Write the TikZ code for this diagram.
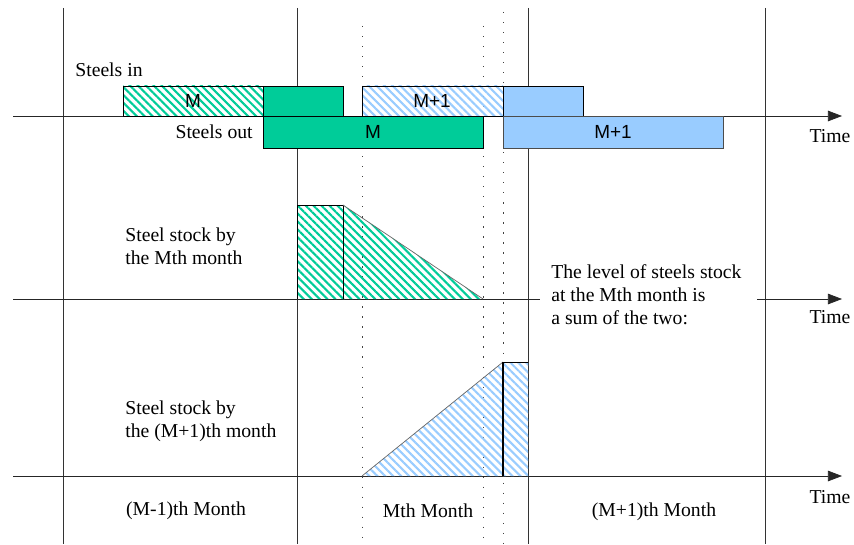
\documentclass[tikz,border=0pt]{standalone}
\usepackage{fontspec}
\setmainfont{Liberation Serif}
\newfontfamily\barfont{Liberation Sans}
\usetikzlibrary{arrows.meta,patterns.meta}
\definecolor{steelgreen}{HTML}{00CC99}
\definecolor{steelblue}{HTML}{99CCFF}

\tikzset{
  timeaxis/.style={draw=black!85, -{Triangle[length=8pt,width=6pt]}},
  monthline/.style={draw=black!80},
  tickline/.style={draw=black!75, dash pattern=on 0.7pt off 5pt},
  hatchgreen/.style={pattern={Lines[angle=-45,distance=3.2pt,line width=1.2pt]}, pattern color=steelgreen},
  hatchblue/.style={pattern={Lines[angle=-45,distance=3.2pt,line width=1.2pt]}, pattern color=steelblue},
  txt/.style={font=\fontsize{11.2}{13}\selectfont, align=left, inner sep=0pt},
  barlabel/.style={font=\barfont\fontsize{10.8}{12}\selectfont, inner sep=0pt}
}

\begin{document}
\begin{tikzpicture}[x=0.02cm, y=-0.02cm]
    \useasboundingbox (0,0) rectangle (854,544);

    % Grenzen der Monate
    \foreach \xm in {63,297,528,765}
        \draw[monthline] (\xm,8) -- (\xm,544);
    % Hilfslinien (gepunktet)
    \foreach \xt/\yt in {362/26,483/26,503/12}
        \draw[tickline] (\xt,\yt) -- (\xt,544);

    % Zeitachsen
    \draw[timeaxis] (13,116) -- (842,116);
    \node[txt] at (830,136) {Time};
    \draw[draw=black!85] (13,299) -- (540,299);
    \draw[timeaxis] (757,299) -- (842,299);
    \node[txt] at (830,317) {Time};
    \draw[timeaxis] (13,476) -- (842,476);
    \node[txt] at (830,497) {Time};

    % Eingang
    \node[txt, anchor=west] at (75,70) {Steels in};
    \draw[hatchgreen] (123,86) rectangle (263,116);
    \draw[black, thin] (123,86) rectangle (263,116);
    \node[barlabel] at (193,101) {M};
    \draw[fill=steelgreen] (263,86) rectangle (343,116);
    \draw[hatchblue] (362,86) rectangle (503,116);
    \draw[black, thin] (362,86) rectangle (503,116);
    \node[barlabel] at (432,101) {M+1};
    \draw[fill=steelblue] (503,86) rectangle (583,116);

    % Ausgang
    \node[txt, anchor=east] at (253,132) {Steels out};
    \draw[fill=steelgreen] (263,116) rectangle (483,148);
    \node[barlabel] at (373,132) {M};
    \draw[fill=steelblue, draw=black!70] (503,116) rectangle (723,148);
    \node[barlabel] at (613,132) {M+1};

    % Bestand aus Monat M
    \node[txt, anchor=west] at (125,246) {Steel stock by\\the Mth month};
    \fill[hatchgreen] (297,205) -- (343,205) -- (483,299) -- (297,299) -- cycle;
    \draw (297,299) -- (297,205) -- (343,205) -- (343,299);
    \draw[black!60] (343,205) -- (483,299);

    % Bestand aus Monat M+1
    \node[txt, anchor=west] at (125,421) {Steel stock by\\the (M+1)th month};
    \fill[hatchblue] (362,476) -- (503,362) -- (528,362) -- (528,476) -- cycle;
    \draw[black!60] (362,476) -- (503,362);
    \draw (503,362) -- (528,362);
    \draw[line width=1.2pt] (503,362) -- (503,476);

    % Erklaerung
    \node[txt, anchor=west] at (551,295) {The level of steels stock\\at the Mth month is\\a sum of the two:};

    % Monatsnamen
    \node[txt] at (186,511) {(M-1)th Month};
    \node[txt] at (428,511) {Mth Month};
    \node[txt] at (654,512) {(M+1)th Month};
\end{tikzpicture}
\end{document}
